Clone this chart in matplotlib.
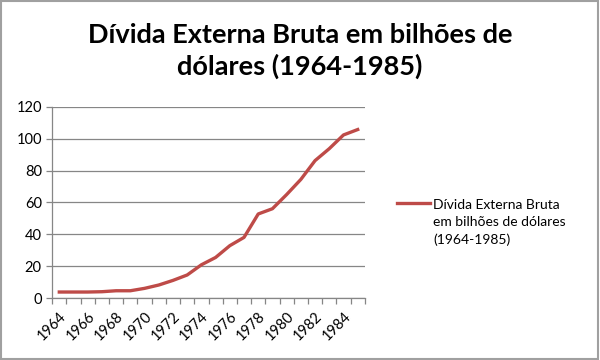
import numpy as np
import matplotlib
matplotlib.use("Agg")
import matplotlib.pyplot as plt
from matplotlib.patches import Rectangle
from matplotlib.lines import Line2D

plt.rcParams['font.family'] = ['Lato', 'DejaVu Sans']

# data
years = list(range(1964, 1986))
debt = [3.8, 3.8, 3.8, 4.0, 4.6, 4.6, 6.1, 8.2, 11.1, 14.5, 20.9, 25.5,
        32.9, 38.1, 52.8, 56.1, 65.0, 74.5, 86.3, 93.8, 102.4, 105.8]
tick_years = [1964, 1966, 1968, 1970, 1972, 1974, 1976, 1978, 1980, 1982, 1984]
title = "Dívida Externa Bruta em bilhões de\ndólares (1964-1985)"
legend_label = "Dívida Externa Bruta\nem bilhões de dólares\n(1964-1985)"

line_color = "#BE4B48"
grid_color = "#868686"

fig = plt.figure(figsize=(6, 3.6), dpi=100)
fig.patch.set_facecolor("white")
# thin grey frame around the chart
fig.add_artist(Rectangle((0.002, 0.003), 0.995, 0.993, transform=fig.transFigure,
                         fill=False, edgecolor="#A0A0A0", linewidth=1.5))

ax = fig.add_axes([0.087, 0.172, 0.521, 0.531])
x = np.arange(len(years))
ax.plot(x, debt, color=line_color, linewidth=2.4, solid_joinstyle="round")

ax.set_xlim(-0.5, len(years) - 0.5)
ax.set_ylim(0, 120)
ax.set_yticks(range(0, 121, 20))
ax.yaxis.grid(True, color=grid_color, linewidth=0.9)
ax.set_axisbelow(True)

# category boundaries get tick marks, labels at every other year
ax.set_xticks(np.arange(-0.5, len(years)), minor=True)
ax.set_xticks([years.index(y) for y in tick_years])
ax.set_xticklabels([str(y) for y in tick_years], rotation=45, ha="right",
                   rotation_mode="anchor", fontsize=10.5)
ax.tick_params(axis="x", which="major", length=0, pad=8)
ax.tick_params(axis="x", which="minor", length=4, color=grid_color, width=0.9)
ax.tick_params(axis="y", length=4, color=grid_color, width=0.9, labelsize=10.5)

for side in ("top", "right"):
    ax.spines[side].set_visible(False)
for side in ("left", "bottom"):
    ax.spines[side].set_color(grid_color)
    ax.spines[side].set_linewidth(0.9)

fig.text(0.5, 0.858, title, ha="center", va="center", fontsize=19.5,
         fontweight="bold", linespacing=1.3)

# legend: key aligned with the first text line, like Excel does
key_y = 0.436
fig.add_artist(Line2D([0.662, 0.717], [key_y, key_y], transform=fig.transFigure,
                      color=line_color, linewidth=2.4))
fig.text(0.722, key_y + 0.012, legend_label, ha="left", va="top",
         fontsize=10, linespacing=1.5)

fig.savefig("out.png", dpi=100)
